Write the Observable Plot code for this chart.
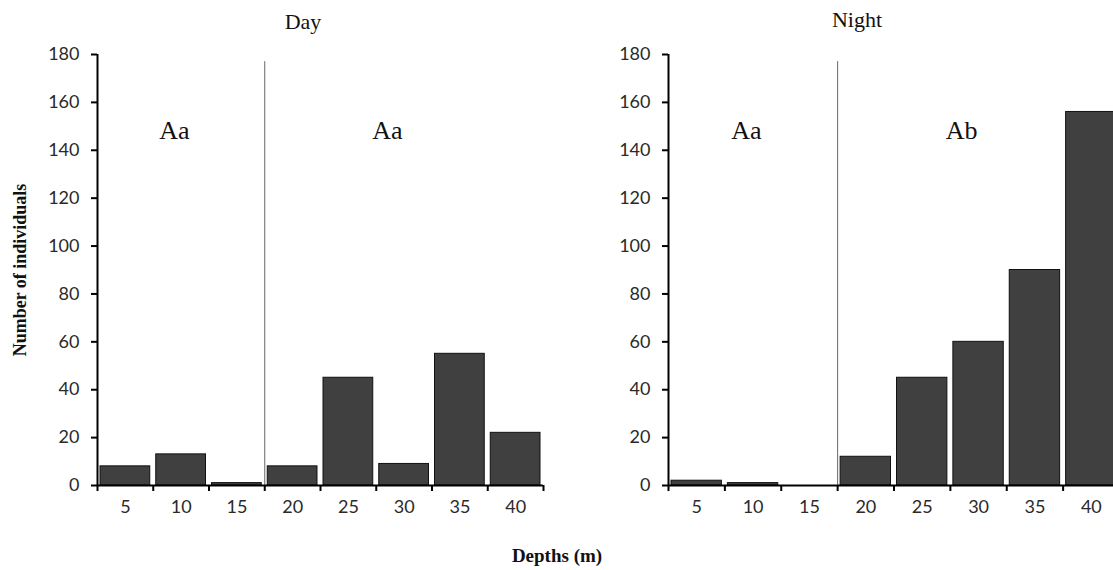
<!DOCTYPE html>
<html>
<head>
<meta charset="utf-8">
<script src="https://cdn.jsdelivr.net/npm/d3@7"></script>
<script src="https://cdn.jsdelivr.net/npm/@observablehq/plot@0.6"></script>
<style>
  html, body { margin: 0; padding: 0; background: #fff; overflow: hidden; }
  #chart { position: relative; width: 1113px; height: 570px; overflow: hidden; background: #fff; }
  #chart svg { position: absolute; top: 0; background: transparent; }
  #chart svg g[aria-label$="tick label"], #chart svg g[aria-label$="tick label"] text { font-size: 18px; font-family: Lato, "Open Sans", sans-serif; }
  .lbl { position: absolute; transform: translate(-50%, -50%); white-space: nowrap; font-family: "Liberation Serif", serif; color: #111; }
</style>
</head>
<body>
<div id="chart"></div>
<script>
// ---- data ----
const depths = ["5", "10", "15", "20", "25", "30", "35", "40"];
const dayCounts = [8, 13, 1, 8, 45, 9, 55, 22];
const nightCounts = [2, 1, 0, 12, 45, 60, 90, 156];
const yTicks = [0, 20, 40, 60, 80, 100, 120, 140, 160, 180];
const dayGroups = ["Aa", "Aa"];
const nightGroups = ["Aa", "Ab"];
const splitDepth = "20"; // separator drawn before this depth
const panelTitles = ["Day", "Night"];
const yLabel = "Number of individuals";
const xLabel = "Depths (m)";

function panel(counts, groups, opts) {
  const n = depths.length;
  const rows = depths.map((d, i) => ({depth: d, i, value: counts[i]}));
  const split = depths.indexOf(splitDepth);
  const sections = [[0, split], [split, n]];
  const shifts = [-0.12, -0.3];
  const groupRows = groups.map((g, k) => ({label: g, x: (sections[k][0] + sections[k][1]) / 2 + shifts[k], y: 148}));
  const boundaries = d3.range(0, n + 1);
  const centers = d3.range(0, n).map(i => i + 0.5);
  return Plot.plot({
    width: opts.width,
    height: 570,
    marginLeft: opts.marginLeft,
    marginRight: opts.marginRight,
    marginTop: 54,
    marginBottom: 85,
    style: {fontFamily: "Lato, 'Open Sans', sans-serif", fontSize: "18px", color: "#222", background: "transparent"},
    x: {domain: [0, n], axis: null},
    y: {domain: [0, 180], axis: null},
    marks: [
      Plot.rectY(rows, {x1: "i", x2: d => d.i + 1, y1: 0, y2: "value", insetLeft: 3, insetRight: 3, fill: "#404040", stroke: "#111", strokeWidth: 1}),
      Plot.ruleX([split], {y1: 0, y2: 177, stroke: "#666", strokeWidth: 1}),
      Plot.axisY({ticks: yTicks, tickSize: 6, tickPadding: 12, fontSize: 18, stroke: "#000", strokeWidth: 2, fill: "#2a2a2a"}),
      Plot.axisX({ticks: boundaries, tickSize: 6, tickFormat: () => "", stroke: "#000", strokeWidth: 2}),
      Plot.axisX({ticks: centers, tickSize: 0, tickPadding: 15, fontSize: 18, fill: "#2a2a2a", tickFormat: v => depths[Math.floor(v)]}),
      Plot.ruleX([0], {y1: 0, y2: 180, stroke: "#000", strokeWidth: 2}),
      Plot.ruleY([0], {x1: 0, x2: n, stroke: "#000", strokeWidth: 2}),
      Plot.text(groupRows, {x: "x", y: "y", text: "label", fontSize: 26, fontFamily: "'Liberation Serif', serif", fill: "#111"})
    ]
  });
}

const chart = document.getElementById("chart");
const left = panel(dayCounts, dayGroups, {width: 560, marginLeft: 97, marginRight: 17});
left.style.left = "0px";
chart.appendChild(left);
const right = panel(nightCounts, nightGroups, {width: 570, marginLeft: 108, marginRight: 11});
right.style.left = "560px";
chart.appendChild(right);

function addLabel(text, x, y, size, bold, rotate) {
  const el = document.createElement("div");
  el.className = "lbl";
  el.textContent = text;
  el.style.left = x + "px";
  el.style.top = y + "px";
  el.style.fontSize = size + "px";
  if (bold) el.style.fontWeight = "bold";
  if (rotate) el.style.transform = "translate(-50%, -50%) rotate(-90deg)";
  chart.appendChild(el);
}
addLabel(panelTitles[0], 303, 22, 22, false, false);
addLabel(panelTitles[1], 857, 20, 22, false, false);
addLabel(yLabel, 20, 270, 18, true, true);
addLabel(xLabel, 557, 556, 19, true, false);
</script>
</body>
</html>
